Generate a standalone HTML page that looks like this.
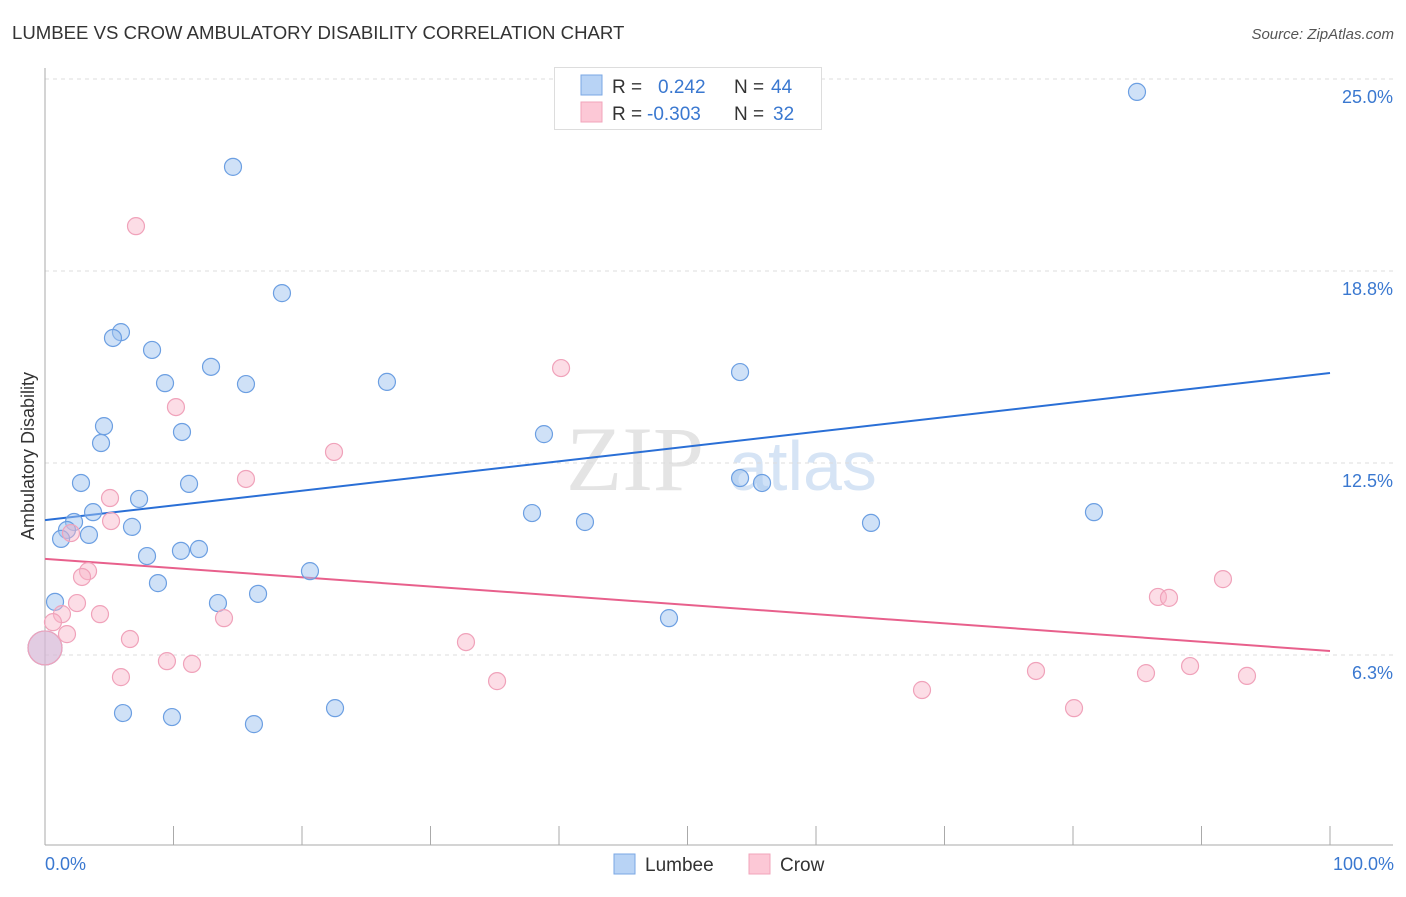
<!DOCTYPE html>
<html><head><meta charset="utf-8"><style>
body{margin:0;background:#fff;font-family:"Liberation Sans",sans-serif;}
svg text{font-family:"Liberation Sans",sans-serif;}
</style></head><body>
<svg id="chart" width="1406" height="892" viewBox="0 0 1406 892">
<text x="12" y="39" font-size="18.6" fill="#333">LUMBEE VS CROW AMBULATORY DISABILITY CORRELATION CHART</text>
<text x="1394" y="39" font-size="15" fill="#555" text-anchor="end" font-style="italic">Source: ZipAtlas.com</text>
<g>
<text x="635" y="490" font-size="92" fill="#e4e4e4" text-anchor="middle" font-family="Liberation Serif" style="font-family:'Liberation Serif',serif">ZIP</text>
<text x="803" y="490" font-size="70" fill="#d6e4f5" text-anchor="middle">atlas</text>
</g>
<g id="grid"></g><g id="axes"></g><g id="lines"></g><g id="points"></g>
<text transform="translate(34,456) rotate(-90)" font-size="18" fill="#333" text-anchor="middle">Ambulatory Disability</text>
<text x="45" y="870" font-size="18" fill="#3a78d0">0.0%</text>
<text x="1394" y="870" font-size="18" fill="#3a78d0" text-anchor="end">100.0%</text>
<g>
<rect x="554.5" y="67.5" width="267" height="62" fill="#fff" stroke="#ddd"/>
<rect x="581" y="75" width="21" height="20" fill="#b8d3f5" stroke="#7aa7e4"/>
<rect x="581" y="102" width="21" height="20" fill="#fcc8d6" stroke="#f2a4bb"/>
<text x="612" y="93" font-size="19" fill="#333">R =</text><text x="658" y="93" font-size="19" fill="#3a78d0">0.242</text>
<text x="734" y="93" font-size="19" fill="#333">N =</text><text x="771" y="93" font-size="19" fill="#3a78d0">44</text>
<text x="612" y="120" font-size="19" fill="#333">R =</text><text x="647" y="120" font-size="19" fill="#3a78d0">-0.303</text>
<text x="734" y="120" font-size="19" fill="#333">N =</text><text x="773" y="120" font-size="19" fill="#3a78d0">32</text>
</g>
<g>
<rect x="614" y="854" width="21" height="20" fill="#b8d3f5" stroke="#7aa7e4"/>
<text x="645" y="871" font-size="19" fill="#333">Lumbee</text>
<rect x="749" y="854" width="21" height="20" fill="#fcc8d6" stroke="#f2a4bb"/>
<text x="780" y="871" font-size="19" fill="#333">Crow</text>
</g>
</svg>
<script>
const yTicks=[6.25,12.5,18.75,25];
const yTickLabels=["6.3%","12.5%","18.8%","25.0%"];
const lumbeeX=[84.98,14.63,18.44,5.91,5.29,8.33,12.92,9.34,15.64,26.61,54.09,4.59,10.66,4.36,38.83,54.09,55.80,2.80,7.32,11.21,3.74,2.26,1.71,6.77,1.25,3.42,37.90,42.02,64.28,81.63,7.94,10.58,11.98,20.62,8.79,0.78,16.58,13.46,48.56,6.07,9.88,16.26,22.57,0];
const lumbeeY=[24.58,22.14,18.03,16.76,16.57,16.18,15.63,15.10,15.07,15.14,15.46,13.70,13.51,13.15,13.44,12.01,11.85,11.85,11.33,11.82,10.90,10.58,10.32,10.42,10.03,10.16,10.87,10.58,10.55,10.90,9.47,9.64,9.70,8.98,8.59,7.98,8.24,7.94,7.45,4.36,4.23,4.00,4.52,6.48];
const crowX=[7.08,40.16,10.19,22.49,15.64,5.06,5.14,2.02,3.35,2.88,2.49,1.32,4.28,0.62,1.71,6.61,13.93,32.76,9.49,11.44,5.91,35.18,68.25,77.12,80.08,85.68,89.11,93.54,86.61,87.47,91.67,0];
const crowY=[20.21,15.59,14.32,12.86,11.98,11.36,10.61,10.22,8.98,8.79,7.94,7.58,7.58,7.32,6.93,6.77,7.45,6.67,6.05,5.96,5.53,5.40,5.11,5.73,4.52,5.66,5.89,5.57,8.14,8.11,8.72,6.48];
const lumbeeTrend=[10.64,15.43];
const crowTrend=[9.38,6.38];
const NS="http://www.w3.org/2000/svg";
const xs=v=>45+v*12.85;
const ys=v=>847-v*30.72;
function mk(tag,attrs,parent){const e=document.createElementNS(NS,tag);for(const k in attrs)e.setAttribute(k,attrs[k]);document.getElementById(parent).appendChild(e);return e;}
yTicks.forEach((t,i)=>{
 const l=mk('line',{x1:45,x2:1393,y1:ys(t),y2:ys(t),stroke:'#ddd','stroke-dasharray':'4,4'},'grid');
 
 
 const tx=mk('text',{x:1393,y:ys(t)+24,'font-size':18,fill:'#3a78d0','text-anchor':'end'},'grid');
 tx.textContent=yTickLabels[i];
 
 
});
const ax=mk('line',{x1:45,x2:45,y1:68,y2:845,stroke:'#aaa'},'axes');


const bx=mk('line',{x1:45,x2:1393,y1:845,y2:845,stroke:'#aaa'},'axes');


for(let i=0;i<=10;i++){
 const t=mk('line',{x1:xs(i*10),x2:xs(i*10),y1:826,y2:845,stroke:'#aaa'},'axes');
 
 
}
const lt=mk('line',{x1:xs(0),x2:xs(100),y1:ys(lumbeeTrend[0]),y2:ys(lumbeeTrend[1]),stroke:'#2a6fd6','stroke-width':2},'lines');


const ct=mk('line',{x1:xs(0),x2:xs(100),y1:ys(crowTrend[0]),y2:ys(crowTrend[1]),stroke:'#e8608c','stroke-width':2},'lines');


function pts(X,Y,fill,stroke,name){
 X.forEach((x,i)=>{
  const big=(x===0);
  const c=mk('circle',{cx:xs(x),cy:ys(Y[i]),r:big?17:8.5,fill:fill,stroke:stroke,'stroke-width':1.2},'points');
  
  
 });
}
pts(lumbeeX,lumbeeY,'rgba(160,196,240,0.5)','#6c9fe2','lumbee-point');
pts(crowX,crowY,'rgba(248,180,200,0.45)','#f0a2ba','crow-point');
</script>
</body></html>
